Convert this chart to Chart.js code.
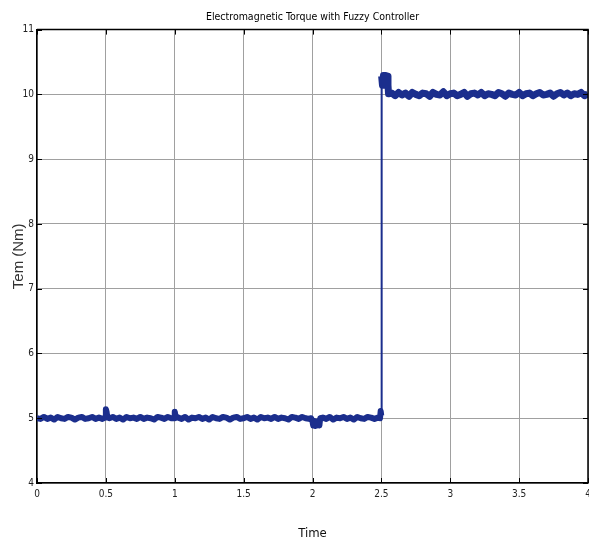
<!DOCTYPE html>
<html>
<head>
<meta charset="utf-8">
<script src="https://cdn.jsdelivr.net/npm/chart.js@4.4.1/dist/chart.umd.min.js"></script>
<style>
  html, body { margin: 0; padding: 0; background: #fff; }
  canvas { display: block; }
</style>
</head>
<body>
<canvas id="torqueChart" width="589" height="539"></canvas>
<script>
// Sample times (s)
var timeSec = [
    0, 0.025, 0.05, 0.075, 0.1, 0.125, 0.15, 0.175, 0.2, 0.225,
    0.25, 0.275, 0.3, 0.325, 0.35, 0.375, 0.4, 0.425, 0.45, 0.475,
    0.495, 0.5, 0.505, 0.51,
    0.525, 0.55, 0.575, 0.6, 0.625, 0.65, 0.675, 0.7, 0.725, 0.75,
    0.775, 0.8, 0.825, 0.85, 0.875, 0.9, 0.925, 0.95, 0.975,
    0.995, 1.0, 1.005,
    1.025, 1.05, 1.075, 1.1, 1.125, 1.15, 1.175, 1.2, 1.225, 1.25,
    1.275, 1.3, 1.325, 1.35, 1.375, 1.4, 1.425, 1.45, 1.475, 1.5,
    1.525, 1.55, 1.575, 1.6, 1.625, 1.65, 1.675, 1.7, 1.725, 1.75,
    1.775, 1.8, 1.825, 1.85, 1.875, 1.9, 1.925, 1.95, 1.975,
    1.99, 2.0, 2.005, 2.012, 2.02, 2.028, 2.035, 2.042, 2.05, 2.056,
    2.075, 2.1, 2.125, 2.15, 2.175, 2.2, 2.225, 2.25, 2.275, 2.3,
    2.325, 2.35, 2.375, 2.4, 2.425, 2.45, 2.475,
    2.49, 2.495, 2.499, 2.502, 2.508, 2.515, 2.522, 2.529, 2.536, 2.543, 2.548, 2.552,
    2.575, 2.6, 2.625, 2.65, 2.675, 2.7, 2.725, 2.75, 2.775, 2.8,
    2.825, 2.85, 2.875, 2.9, 2.925, 2.95, 2.975, 3.0, 3.025, 3.05,
    3.075, 3.1, 3.125, 3.15, 3.175, 3.2, 3.225, 3.25, 3.275, 3.3,
    3.325, 3.35, 3.375, 3.4, 3.425, 3.45, 3.475, 3.5, 3.525, 3.55,
    3.575, 3.6, 3.625, 3.65, 3.675, 3.7, 3.725, 3.75, 3.775, 3.8,
    3.825, 3.85, 3.875, 3.9, 3.925, 3.95, 3.975, 4.0
];

// Electromagnetic torque (Nm)
var torqueNm = [
    5.00, 4.99, 5.02, 4.99, 5.01, 4.98, 5.02, 5.00, 4.99, 5.02,
    5.01, 4.98, 5.01, 5.02, 4.99, 5.00, 5.02, 4.99, 5.01, 4.99,
    5.01, 5.14, 5.10, 5.02,
    5.00, 5.02, 4.99, 5.01, 4.98, 5.02, 5.00, 5.01, 4.99, 5.02,
    4.99, 5.01, 5.00, 4.98, 5.02, 5.01, 4.99, 5.02, 5.00,
    5.00, 5.10, 5.04,
    5.01, 4.99, 5.02, 4.98, 5.01, 5.00, 5.02, 4.99, 5.01, 4.98,
    5.02, 5.00, 4.99, 5.02, 5.01, 4.98, 5.01, 5.02, 4.99, 5.00,
    5.02, 4.99, 5.01, 4.98, 5.02, 5.00, 5.01, 4.99, 5.02, 4.99,
    5.01, 5.00, 4.98, 5.02, 5.01, 4.99, 5.02, 5.00, 4.99,
    5.00, 4.95, 4.89, 4.96, 4.88, 4.95, 4.89, 4.95, 4.89, 5.00,
    5.01, 4.99, 5.02, 4.98, 5.01, 5.00, 5.02, 4.99, 5.01, 4.98,
    5.02, 5.00, 4.99, 5.02, 5.01, 4.99, 5.01,
    5.00, 5.11, 5.04, 10.28, 10.14, 10.29, 10.14, 10.29, 10.14, 10.28, 10.14, 10.01,
    10.02, 9.98, 10.03, 9.99, 10.02, 9.97, 10.03, 10.00, 9.98, 10.02,
    10.01, 9.97, 10.03, 10.00, 9.99, 10.04, 9.98, 10.01, 10.02, 9.98,
    10.00, 10.03, 9.97, 10.01, 10.02, 9.99, 10.03, 9.98, 10.01, 10.00,
    9.98, 10.03, 10.01, 9.97, 10.02, 10.00, 9.99, 10.03, 9.98, 10.01,
    10.02, 9.98, 10.01, 10.03, 9.99, 10.00, 10.02, 9.97, 10.01, 10.03,
    9.99, 10.02, 9.98, 10.01, 10.00, 10.03, 9.98, 10.01
];

var xTicks = [0, 0.5, 1, 1.5, 2, 2.5, 3, 3.5, 4];
var yTicks = [4, 5, 6, 7, 8, 9, 10, 11];

var narrowFont = "'Liberation Sans Narrow', 'DejaVu Sans Condensed', Arial, sans-serif";
var lineColor = '#1b2e8d';

// frame on top/right plus the small inward tick marks on all four sides
var framePlugin = {
    id: 'frame',
    afterDraw: function (chart) {
        var ctx = chart.ctx;
        var a = chart.chartArea;
        var xs = chart.scales.x;
        var ys = chart.scales.y;
        ctx.save();
        ctx.strokeStyle = '#000';
        ctx.lineWidth = 1.5;
        ctx.beginPath();
        ctx.moveTo(a.left, a.top);
        ctx.lineTo(a.right, a.top);
        ctx.lineTo(a.right, a.bottom);
        ctx.stroke();

        ctx.lineWidth = 1;
        ctx.beginPath();
        xTicks.forEach(function (v) {
            var px = Math.round(xs.getPixelForValue(v)) + 0.5;
            ctx.moveTo(px, a.bottom);
            ctx.lineTo(px, a.bottom - 5);
            ctx.moveTo(px, a.top);
            ctx.lineTo(px, a.top + 5);
        });
        yTicks.forEach(function (v) {
            var py = Math.round(ys.getPixelForValue(v)) + 0.5;
            ctx.moveTo(a.left, py);
            ctx.lineTo(a.left + 5, py);
            ctx.moveTo(a.right, py);
            ctx.lineTo(a.right - 5, py);
        });
        ctx.stroke();
        ctx.restore();
    }
};

var points = timeSec.map(function (t, i) {
    return { x: t, y: torqueNm[i] };
});

var ctx = document.getElementById('torqueChart').getContext('2d');
var torqueChart = new Chart(ctx, {
    type: 'line',
    data: {
        datasets: [{
            label: 'Tem',
            data: points,
            borderColor: lineColor,
            borderWidth: 6,
            borderJoinStyle: 'round',
            borderCapStyle: 'butt',
            pointRadius: 0,
            tension: 0,
            segment: {
                // the step itself is a thin line, the band above it a bit wider
                borderWidth: function (c) {
                    if (Math.abs(c.p1.parsed.y - c.p0.parsed.y) > 1) return 2;
                    return c.p0.parsed.y > 7 ? 7 : 6;
                }
            }
        }]
    },
    options: {
        responsive: false,
        animation: false,
        layout: { padding: { left: 0, right: 1, top: 0, bottom: 0 } },
        plugins: {
            legend: { display: false },
            tooltip: { enabled: false },
            title: {
                display: true,
                fullSize: false,
                text: 'Electromagnetic Torque with Fuzzy Controller',
                color: '#000',
                font: { family: narrowFont, size: 10.5, weight: 'normal' },
                padding: { top: 11, bottom: 6 }
            }
        },
        scales: {
            x: {
                type: 'linear',
                min: 0,
                max: 4,
                afterBuildTicks: function (scale) {
                    scale.ticks = xTicks.map(function (v) { return { value: v }; });
                },
                afterFit: function (scale) {
                    scale.height = 56;
                    scale.paddingLeft = 0;
                    scale.paddingRight = 0;
                },
                ticks: {
                    padding: 5,
                    color: '#222',
                    maxRotation: 0,
                    autoSkip: false,
                    font: { family: narrowFont, size: 10 },
                    callback: function (v) { return String(v); }
                },
                grid: { color: '#a0a0a0', lineWidth: 1, drawTicks: false },
                border: { display: true, color: '#000', width: 1.5 },
                title: {
                    display: true,
                    text: 'Time',
                    color: '#111',
                    font: { family: narrowFont, size: 13 },
                    padding: { top: 0, bottom: -2 }
                }
            },
            y: {
                min: 4,
                max: 11,
                afterBuildTicks: function (scale) {
                    scale.ticks = yTicks.map(function (v) { return { value: v }; });
                },
                afterFit: function (scale) {
                    scale.width = 37;
                    scale.paddingTop = 0;
                    scale.paddingBottom = 0;
                },
                ticks: {
                    padding: 3,
                    color: '#222',
                    autoSkip: false,
                    font: { family: narrowFont, size: 10 },
                    callback: function (v) { return String(v); }
                },
                grid: { color: '#a0a0a0', lineWidth: 1, drawTicks: false },
                border: { display: true, color: '#000', width: 1.5 },
                title: {
                    display: true,
                    text: 'Tem (Nm)',
                    color: '#333',
                    font: { family: "'Liberation Sans', Arial, sans-serif", size: 15 },
                    padding: { top: 10, bottom: 0 }
                }
            }
        }
    },
    plugins: [framePlugin]
});
</script>
</body>
</html>
